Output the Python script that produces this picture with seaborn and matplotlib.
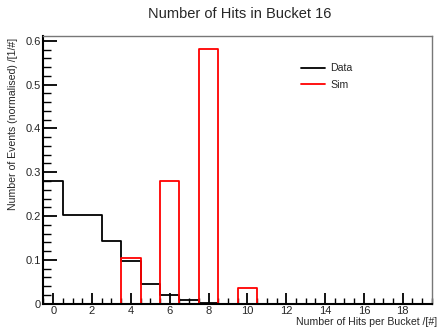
import matplotlib
matplotlib.use("Agg")
import matplotlib.pyplot as plt
import seaborn as sns
import pandas as pd
from matplotlib.ticker import MultipleLocator, FuncFormatter

# hits per bucket (bin centres) and normalised counts
hits = list(range(20))
data_vals = [0.281, 0.203, 0.203, 0.144, 0.098, 0.044, 0.019, 0.008, 0.002, 0,
             0, 0, 0, 0, 0, 0, 0, 0, 0, 0]
sim_vals = [0, 0, 0, 0, 0.104, 0, 0.281, 0, 0.581, 0,
            0.036, 0, 0, 0, 0, 0, 0, 0, 0, 0]
bin_edges = [b - 0.5 for b in range(21)]

df = pd.DataFrame({"hits": hits, "data": data_vals, "sim": sim_vals})

sns.set_style("white")
plt.rcParams['font.family'] = ['Liberation Sans', 'DejaVu Sans']

fig = plt.figure(figsize=(4.38, 3.27), dpi=100)
ax = fig.add_axes([0.0993, 0.0713, 0.8867, 0.8187])

sns.histplot(data=df, x="hits", weights="data", bins=bin_edges, element="step", fill=False,
             color="black", linewidth=1.3, label="Data", ax=ax)
sns.histplot(data=df, x="hits", weights="sim", bins=bin_edges, element="step", fill=False,
             color="red", linewidth=1.3, label="Sim", ax=ax)

ax.set_xlim(-0.5, 19.5)
ax.set_ylim(0, 0.611)
ax.set_xlabel("")
ax.set_ylabel("")

ax.xaxis.set_major_locator(MultipleLocator(2))
ax.xaxis.set_minor_locator(MultipleLocator(0.5))
ax.yaxis.set_major_locator(MultipleLocator(0.1))
ax.yaxis.set_minor_locator(MultipleLocator(0.02))
ax.yaxis.set_major_formatter(FuncFormatter(lambda v, p: "0" if abs(v) < 1e-9 else f"{v:.1f}"))
ax.tick_params(which="both", bottom=True, left=True, top=False, right=False)
ax.tick_params(which="major", direction="in", labelsize=8, length=8, width=1.3, color="black")
ax.tick_params(axis="y", which="major", length=10)
ax.tick_params(which="minor", direction="in", length=4, width=1.0, color="black")
ax.tick_params(axis="y", which="minor", length=6)
ax.tick_params(axis="x", pad=2)
ax.tick_params(axis="y", pad=2)

for s in ["left", "bottom"]:
    ax.spines[s].set_color("black")
    ax.spines[s].set_linewidth(1.5)
for s in ["top", "right"]:
    ax.spines[s].set_color("#777777")
    ax.spines[s].set_linewidth(1.0)

fig.text(0.548, 0.957, "Number of Hits in Bucket 16", ha="center", va="center", fontsize=10.5)
fig.text(0.998, 0.0, "Number of Hits per Bucket /[#]", ha="right", va="bottom", fontsize=7.6)
fig.text(0.030, 0.885, "Number of Events (normalised) /[1/#]", ha="center", va="top",
         rotation=90, fontsize=7.6)

ax.legend(loc="upper left", bbox_to_anchor=(0.665, 0.835), bbox_transform=fig.transFigure,
          frameon=False, fontsize=7.6, handlelength=2.3, handletextpad=0.5, labelspacing=0.6)

fig.savefig("out.png", dpi=100)
